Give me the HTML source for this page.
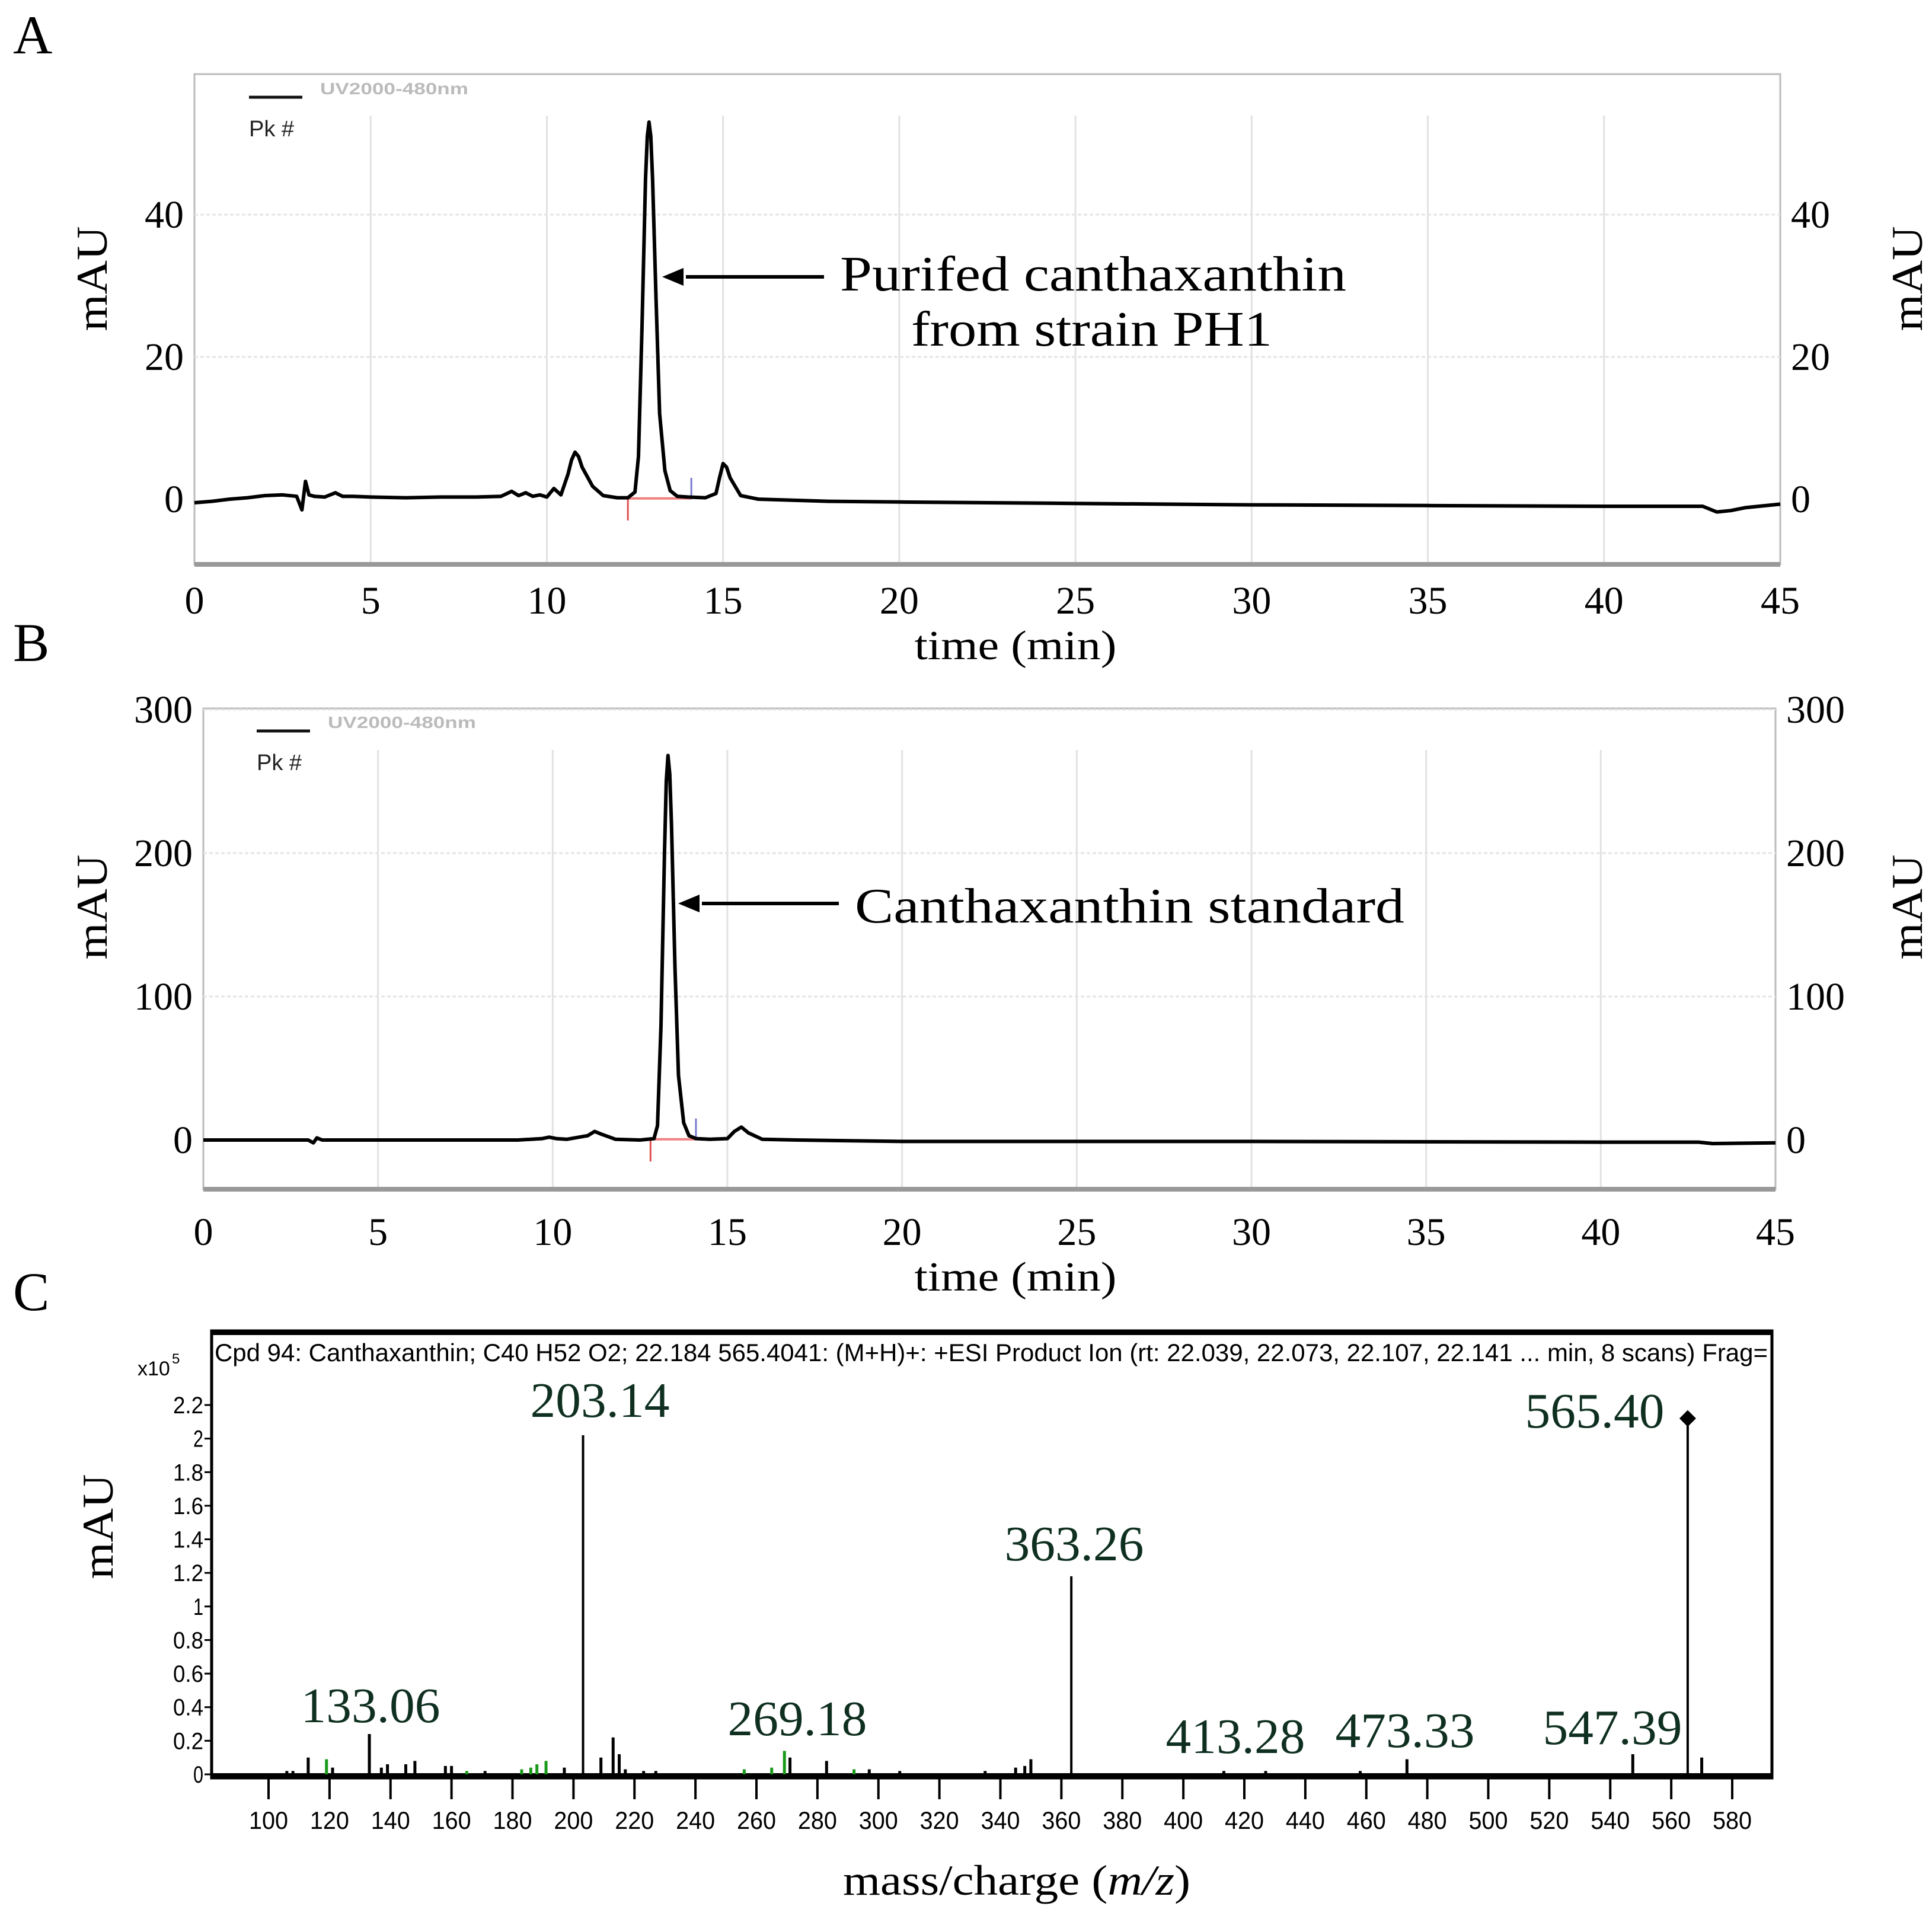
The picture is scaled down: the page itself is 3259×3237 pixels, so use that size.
<!DOCTYPE html>
<html><head><meta charset="utf-8"><style>
html,body{margin:0;padding:0;background:#fff;}
svg{display:block;}
.serif{font-family:"Liberation Serif",serif;}
.sans{font-family:"Liberation Sans",sans-serif;}
</style></head><body>
<svg id="fig" width="3259" height="3237" viewBox="0 0 3259 3237" xmlns="http://www.w3.org/2000/svg">
<rect width="3259" height="3237" fill="#fff"/>
<g id="panelA"></g>
<g id="panelB"></g>
<g id="panelC"></g>
</svg>
<script>
// ---- Panel A data ----
const timeA = [0,0.5,1,1.5,2,2.5,2.9,3.05,3.15,3.25,3.4,3.7,4,4.2,4.5,5,6,7,8,8.7,9,9.2,9.4,9.6,9.8,10,10.2,10.4,10.6,10.7,10.8,10.9,11,11.3,11.6,12,12.3,12.5,12.6,12.7,12.8,12.85,12.9,12.95,13,13.1,13.2,13.35,13.5,13.7,14,14.5,14.8,14.9,15,15.1,15.2,15.5,16,18,20,25,30,35,40,42.8,43.2,43.6,44,45];
const valA  = [-0.5,-0.3,0,0.2,0.5,0.6,0.4,-1.5,2.5,0.6,0.4,0.3,0.9,0.4,0.4,0.3,0.2,0.3,0.3,0.4,1.1,0.5,0.9,0.4,0.6,0.3,1.5,0.6,3.5,5.5,6.6,6,4.5,1.8,0.5,0.2,0.2,1,6,24,45,51,53,51,45,28,12,4,1.2,0.4,0.3,0.2,0.8,3,5,4.5,3,0.5,0,-0.3,-0.4,-0.6,-0.8,-0.9,-1,-1,-1.8,-1.6,-1.2,-0.7];
const xTicksA = [0,5,10,15,20,25,30,35,40,45];
const yTicksA = [0,20,40];
// ---- Panel B data ----
const timeB = [0,3,3.15,3.25,3.4,5,9,9.7,9.9,10.1,10.4,11,11.2,11.4,11.8,12.5,12.9,13,13.1,13.2,13.25,13.3,13.35,13.4,13.5,13.6,13.75,13.9,14.1,14.5,15,15.2,15.4,15.6,16,17,20,30,40,42.8,43.2,45];
const valB  = [0,0,-2,1.5,0,0,0,1,2,1,0.5,3,6,4,0.5,0,1,10,80,200,250,268,255,220,120,45,12,3,1,0.5,1,6,9,5,0.5,0,-1,-1,-1.5,-1.5,-2.5,-2];
const xTicksB = [0,5,10,15,20,25,30,35,40,45];
const yTicksB = [0,100,200,300];
// ---- Panel C data ----
const mzC = [106,108,113,119,121,133.06,137,139,145,148,158,160,165,171,183,186,188,191,197,203.14,209,213,215,217,223,227,256,265,269.18,271,283,292,297,307,335,345,348,350,363.26,413.28,427,458,473.33,547.39,565.40,570];
const intC = [0.02,0.02,0.1,0.09,0.04,0.24,0.04,0.06,0.06,0.08,0.05,0.05,0.02,0.02,0.03,0.04,0.06,0.08,0.04,2.02,0.1,0.22,0.12,0.03,0.02,0.02,0.03,0.04,0.14,0.1,0.08,0.03,0.03,0.02,0.02,0.04,0.05,0.09,1.18,0.02,0.02,0.02,0.09,0.12,2.12,0.1];
const greenIdx = [3,12,14,15,16,17,26,27,28,31];
const labelMz = ["133.06","203.14","269.18","363.26","413.28","473.33","547.39","565.40"];
const xTicksC = [100,120,140,160,180,200,220,240,260,280,300,320,340,360,380,400,420,440,460,480,500,520,540,560,580];
const yTicksC = [0,0.2,0.4,0.6,0.8,1,1.2,1.4,1.6,1.8,2,2.2];

const NS="http://www.w3.org/2000/svg";
function mk(parent,tag,attrs,text){const e=document.createElementNS(NS,tag);for(const k in attrs)e.setAttribute(k,attrs[k]);if(text!==undefined)e.textContent=text;parent.appendChild(e);return e;}

function chrom(g,cfg){
  const {L,R,T,B,xMax,y0,yPerUnit,times,vals,xTicks,yTicks,tickY,titleY,letter,letterY} = cfg;
  const sx=t=>L+(R-L)*t/xMax, sy=v=>y0-v*yPerUnit;
  let e;
  e=mk(g,'text',{x:22,y:letterY,'font-size':92,class:'serif'},letter);
  
  
  e=mk(g,'rect',{x:L,y:T,width:R-L,height:B-T,fill:'none',stroke:'#bbb','stroke-width':3});
  
  
  for(const t of xTicks){
    if(t>0&&t<xMax){e=mk(g,'line',{x1:sx(t),x2:sx(t),y1:cfg.gridTop,y2:B,stroke:'#e2e2e2','stroke-width':3});
    
    }
    e=mk(g,'text',{x:sx(t),y:tickY,'font-size':66,'text-anchor':'middle',class:'serif'},String(t));
    
    
  }
  for(const v of yTicks){
    if(v>0){e=mk(g,'line',{x1:L,x2:R,y1:sy(v),y2:sy(v),stroke:'#e4e4e4','stroke-width':3,'stroke-dasharray':'6 4'});
    
    }
    e=mk(g,'text',{x:L-18,y:sy(v)+22,'font-size':66,'text-anchor':'end',class:'serif'},String(v));
    
    
    e=mk(g,'text',{x:R+18,y:sy(v)+22,'font-size':66,'text-anchor':'start',class:'serif'},String(v));
    
    
  }
  e=mk(g,'line',{x1:L,x2:R,y1:B,y2:B,stroke:'#999','stroke-width':8});
  
  
  e=mk(g,'text',{x:1713,y:titleY,'font-size':70,'text-anchor':'middle',class:'serif',textLength:341,lengthAdjust:'spacingAndGlyphs'},'time (min)');
  
  
  const my=cfg.mauY;
  e=mk(g,'text',{x:0,y:0,'font-size':74,'text-anchor':'middle',class:'serif',textLength:177,lengthAdjust:'spacingAndGlyphs',transform:`translate(180,${my}) rotate(-90)`},'mAU');
  
  
  e=mk(g,'text',{x:0,y:0,'font-size':74,'text-anchor':'middle',class:'serif',textLength:177,lengthAdjust:'spacingAndGlyphs',transform:`translate(3242,${my}) rotate(-90)`},'mAU');
  
  
  // legend
  e=mk(g,'line',{x1:cfg.legX,x2:cfg.legX+90,y1:cfg.legY,y2:cfg.legY,stroke:'#111','stroke-width':5});
  
  
  e=mk(g,'text',{x:cfg.legX+120,y:cfg.legY-5,'font-size':28,fill:'#bbb',class:'sans','font-weight':'bold',textLength:250,lengthAdjust:'spacingAndGlyphs'},'UV2000-480nm');
  
  
  e=mk(g,'text',{x:cfg.legX,y:cfg.legY+66,'font-size':38,fill:'#222',class:'sans'},'Pk #');
  
  
  // integration marks
  e=mk(g,'line',{x1:sx(cfg.intS),x2:sx(cfg.intE),y1:sy(0.1*cfg.mk),y2:sy(0.1*cfg.mk),stroke:'#f08080','stroke-width':4});
  
  
  e=mk(g,'line',{x1:sx(cfg.intS),x2:sx(cfg.intS),y1:sy(0),y2:sy(-3*cfg.mk),stroke:'#e05050','stroke-width':3});
  
  
  e=mk(g,'line',{x1:sx(cfg.intE),x2:sx(cfg.intE),y1:sy(0),y2:sy(3*cfg.mk),stroke:'#7a7ad0','stroke-width':3});
  
  
  let d='';times.forEach((t,i)=>{d+=(i?'L':'M')+sx(t).toFixed(1)+' '+sy(vals[i]).toFixed(1);});
  e=mk(g,'path',{d,fill:'none',stroke:'#000','stroke-width':6,'stroke-linejoin':'round'});
  
  
  // arrow
  const ay=cfg.arrowY;
  e=mk(g,'line',{x1:cfg.arrowX1+40,x2:cfg.arrowX2,y1:ay,y2:ay,stroke:'#000','stroke-width':6});
  
  
  e=mk(g,'polygon',{points:`${cfg.arrowX1},${ay} ${cfg.arrowX1+36},${ay-15} ${cfg.arrowX1+36},${ay+15}`,fill:'#000'});
  
  
  cfg.ann.forEach(a=>{e=mk(g,'text',{x:a[0],y:a[1],'font-size':84,class:'serif',textLength:a[3],lengthAdjust:'spacingAndGlyphs'},a[2]);
    
    });
}

chrom(document.getElementById('panelA'),{L:328,R:3003,T:125,B:952,xMax:45,y0:842,yPerUnit:12.0,times:timeA,vals:valA,xTicks:xTicksA,yTicks:yTicksA,tickY:1035,titleY:1112,letter:'A',letterY:90,gridTop:195,mauY:470,legX:420,legY:164,intS:12.3,intE:14.1,mk:1,arrowY:467,arrowX1:1117,arrowX2:1390,
  ann:[[1417,490,'Purifed canthaxanthin',854],[1537,583,'from strain PH1',609]]});
chrom(document.getElementById('panelB'),{L:343,R:2995,T:1195,B:2006,xMax:45,y0:1923,yPerUnit:2.42,times:timeB,vals:valB,xTicks:xTicksB,yTicks:yTicksB,tickY:2100,titleY:2177,letter:'B',letterY:1115,gridTop:1265,mauY:1530,legX:433,legY:1233,intS:12.8,intE:14.1,mk:5,arrowY:1524,arrowX1:1144,arrowX2:1415,
  ann:[[1442,1556,'Canthaxanthin standard',927]]});

// ---- Panel C ----
(function(){
  const g=document.getElementById('panelC');
  const L=357,R=2989,T=2245,B=2999;
  const sx=m=>453+(m-100)*(2922-453)/480, sy=v=>2993-v*(2993-2370)/2.2;
  let e;
  e=mk(g,'text',{x:22,y:2210,'font-size':92,class:'serif'},'C');
  
  
  e=mk(g,'rect',{x:L,y:T,width:R-L,height:B-T,fill:'none',stroke:'#000','stroke-width':5});
  
  
  e=mk(g,'line',{x1:L,x2:R,y1:B-4,y2:B-4,stroke:'#000','stroke-width':8});
  
  
  e=mk(g,'line',{x1:L,x2:R,y1:T+3,y2:T+3,stroke:'#000','stroke-width':8});
  
  
  e=mk(g,'text',{x:362,y:2296,'font-size':42,class:'sans',textLength:2620,lengthAdjust:'spacingAndGlyphs'},'Cpd 94: Canthaxanthin; C40 H52 O2; 22.184 565.4041: (M+H)+: +ESI Product Ion (rt: 22.039, 22.073, 22.107, 22.141 ... min, 8 scans) Frag=');
  
  
  e=mk(g,'text',{x:232,y:2320,'font-size':34,class:'sans'},'x10');
  
  
  e=mk(g,'text',{x:290,y:2300,'font-size':24,class:'sans'},'5');
  
  
  yTicksC.forEach(v=>{
    e=mk(g,'line',{x1:L-12,x2:L,y1:sy(v),y2:sy(v),stroke:'#000','stroke-width':3});
    
    
    e=mk(g,'text',{x:L-14,y:sy(v)+14,'font-size':40,'text-anchor':'end',class:'sans',textLength:String(v).length*17,lengthAdjust:'spacingAndGlyphs'},String(v));
    
    
  });
  xTicksC.forEach(m=>{
    e=mk(g,'line',{x1:sx(m),x2:sx(m),y1:B,y2:B+36,stroke:'#000','stroke-width':4});
    
    
    e=mk(g,'text',{x:sx(m),y:3085,'font-size':42,'text-anchor':'middle',class:'sans',textLength:66,lengthAdjust:'spacingAndGlyphs'},String(m));
    
    
  });
  mzC.forEach((m,i)=>{
    e=mk(g,'line',{x1:sx(m),x2:sx(m),y1:sy(0),y2:sy(intC[i]),stroke:greenIdx.includes(i)?'#1a9a1a':'#000','stroke-width':i===19||i===38||i===44?4:5});
    
    
  });
  e=mk(g,'polygon',{points:`${sx(565.4)},${sy(2.12)-14} ${sx(565.4)+14},${sy(2.12)} ${sx(565.4)},${sy(2.12)+14} ${sx(565.4)-14},${sy(2.12)}`,fill:'#000'});
  
  
  const lblPos=[[625,2905],[1012,2390],[1345,2927],[1812,2632],[2084,2957],[2370,2947],[2720,2942],[2690,2408]];
  labelMz.forEach((s,i)=>{
    e=mk(g,'text',{x:lblPos[i][0],y:lblPos[i][1],'font-size':84,'text-anchor':'middle',fill:'#0f3020',class:'serif',textLength:235,lengthAdjust:'spacingAndGlyphs'},s);
    
    
  });
  e=mk(g,'text',{x:0,y:0,'font-size':74,'text-anchor':'middle',class:'serif',textLength:177,lengthAdjust:'spacingAndGlyphs',transform:'translate(190,2575) rotate(-90)'},'mAU');
  
  
  const t=mk(g,'text',{x:1715,y:3196,'font-size':72,'text-anchor':'middle',class:'serif',textLength:586,lengthAdjust:'spacingAndGlyphs'});
  
  
  mk(t,'tspan',{},'mass/charge (');mk(t,'tspan',{'font-style':'italic'},'m/z');mk(t,'tspan',{},')');
})();
</script>
</body></html>
